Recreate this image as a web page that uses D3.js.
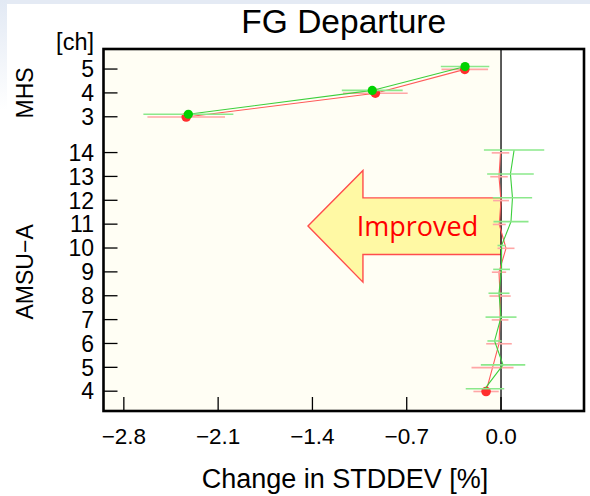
<!DOCTYPE html>
<html>
<head>
<meta charset="utf-8">
<script src="https://cdn.jsdelivr.net/npm/d3@7"></script>
<style>
  body { margin: 0; background: #fff; }
  svg { display: block; }
  text { font-family: "Liberation Sans", Arial, sans-serif; fill: #000; }
</style>
</head>
<body>
<script>
// channels, top to bottom
var mhsChannels = [5, 4, 3];
var amsuChannels = [14, 13, 12, 11, 10, 9, 8, 7, 6, 5, 4];

// experiment (green) and control (red): change in STDDEV [%], with error half-widths
var mhsGreen = [-0.267, -0.956, -2.321];
var mhsGreenErr = [0.180, 0.226, 0.334];
var mhsGreenSig = [true, true, true];
var mhsRed = [-0.269, -0.933, -2.337];
var mhsRedErr = [0.173, 0.240, 0.288];
var mhsRedSig = [true, true, true];

var amsuGreen = [0.097, 0.070, 0.085, 0.074, 0.004, 0.004, -0.015, 0.000, -0.048, 0.015, -0.119];
var amsuGreenErr = [0.224, 0.173, 0.146, 0.130, 0.030, 0.062, 0.078, 0.115, 0.053, 0.165, 0.143];
var amsuGreenSig = [false, false, false, false, false, false, false, false, false, false, false];
var amsuRed = [-0.004, -0.015, 0.000, -0.013, 0.037, -0.015, -0.007, -0.007, -0.015, -0.063, -0.111];
var amsuRedErr = [0.065, 0.065, 0.059, 0.048, 0.063, 0.053, 0.079, 0.062, 0.095, 0.156, 0.094];
var amsuRedSig = [false, false, false, false, false, false, false, false, false, false, true];

var xTicks = [-2.8, -2.1, -1.4, -0.7, 0.0];

function init() {
    var w = 590;
    var h = 496;
    var left = 103.5, right = 584, top = 49, bottom = 411;

    var svg = d3.select("body")
        .append("svg")
        .attr("width", w)
        .attr("height", h);

    // slide background edges
    var defs = svg.append("defs");
    var grad = defs.append("linearGradient").attr("id", "edge")
        .attr("x1", 0).attr("y1", 0).attr("x2", 0).attr("y2", 1);
    grad.append("stop").attr("offset", "0%").attr("stop-color", "#e2e9f4");
    grad.append("stop").attr("offset", "100%").attr("stop-color", "#ffffff");
    svg.append("rect").attr("x", 0).attr("y", 0).attr("width", w).attr("height", 4).attr("fill", "#e4eaf4");
    svg.append("rect").attr("x", 0).attr("y", 0).attr("width", 7).attr("height", 110).attr("fill", "url(#edge)");

    var x = d3.scaleLinear()
        .domain([-2.951, 0.616])
        .range([left, right]);

    // row index: MHS rows 0..2, AMSU rows 3.5..13.5
    var y = d3.scaleLinear()
        .domain([-0.84, 14.33])
        .range([top, bottom]);

    function rows(channels, green, greenErr, greenSig, red, redErr, redSig, offset) {
        return channels.map(function (c, i) {
            return {
                ch: c, idx: i + offset,
                g: green[i], ge: greenErr[i], gs: greenSig[i],
                r: red[i], re: redErr[i], rs: redSig[i]
            };
        });
    }
    var mhs = rows(mhsChannels, mhsGreen, mhsGreenErr, mhsGreenSig, mhsRed, mhsRedErr, mhsRedSig, 0);
    var amsu = rows(amsuChannels, amsuGreen, amsuGreenErr, amsuGreenSig, amsuRed, amsuRedErr, amsuRedSig, 3.5);
    var all = mhs.concat(amsu);

    // panel background: cream on the "improved" side
    svg.append("rect")
        .attr("x", left).attr("y", top)
        .attr("width", x(0) - left).attr("height", bottom - top)
        .attr("fill", "#fffef4");

    // Improved arrow
    var shaftTop = y(5.4), shaftBot = y(7.77);
    var headTop = y(4.25), headBot = y(8.93), mid = y(6.58);
    var tipX = x(-1.433), neckX = x(-1.025);
    svg.append("path")
        .attr("d", "M" + x(0) + "," + shaftTop + "L" + neckX + "," + shaftTop +
            "L" + neckX + "," + headTop + "L" + tipX + "," + mid +
            "L" + neckX + "," + headBot + "L" + neckX + "," + shaftBot +
            "L" + x(0) + "," + shaftBot + "Z")
        .attr("fill", "#fff9a4")
        .attr("stroke", "#ff4d4d")
        .attr("stroke-width", 1.4);
    svg.append("text")
        .attr("x", x(-0.62)).attr("y", mid + 10)
        .attr("text-anchor", "middle")
        .style("font-family", "'Open Sans', 'Noto Sans', sans-serif")
        .style("font-size", "27px")
        .style("fill", "#ff0000")
        .text("Improved");

    // zero line
    svg.append("line")
        .attr("x1", x(0)).attr("x2", x(0))
        .attr("y1", top).attr("y2", bottom)
        .attr("stroke", "#333").attr("stroke-width", 1.6);

    var gOff = -2.5, rOff = 0.3;

    function drawSeries(key, errKey, sigKey, off, lineCol, barCol, dotCol, r) {
        [mhs, amsu].forEach(function (grp) {
            svg.append("path")
                .datum(grp)
                .attr("fill", "none")
                .attr("stroke", lineCol)
                .attr("stroke-width", 1.1)
                .attr("d", d3.line()
                    .x(function (d) { return x(d[key]); })
                    .y(function (d) { return y(d.idx) + off; }));
        });
        svg.selectAll("line.err-" + key)
            .data(all)
            .enter()
            .append("line")
            .attr("class", "err-" + key)
            .attr("x1", function (d) { return x(d[key] - d[errKey]); })
            .attr("x2", function (d) { return x(d[key] + d[errKey]); })
            .attr("y1", function (d) { return y(d.idx) + off; })
            .attr("y2", function (d) { return y(d.idx) + off; })
            .attr("stroke", barCol)
            .attr("stroke-width", 1.6);
        svg.selectAll("circle.dot-" + key)
            .data(all.filter(function (d) { return d[sigKey]; }))
            .enter()
            .append("circle")
            .attr("class", "dot-" + key)
            .attr("cx", function (d) { return x(d[key]); })
            .attr("cy", function (d) { return y(d.idx) + off; })
            .attr("r", r)
            .attr("fill", dotCol);
    }
    drawSeries("r", "re", "rs", rOff, "#ff5a5a", "#ffa6a6", "#ff2e2e", 4.8);
    drawSeries("g", "ge", "gs", gOff, "#3ccf3c", "#8be88b", "#00d200", 4.6);

    // frame
    svg.append("rect")
        .attr("x", left).attr("y", top)
        .attr("width", right - left).attr("height", bottom - top)
        .attr("fill", "none")
        .attr("stroke", "#000")
        .attr("stroke-width", 2.6);

    // x axis: inward ticks
    svg.selectAll("line.xtick")
        .data(xTicks)
        .enter()
        .append("line")
        .attr("class", "xtick")
        .attr("x1", function (d) { return x(d); })
        .attr("x2", function (d) { return x(d); })
        .attr("y1", bottom).attr("y2", bottom - 14)
        .attr("stroke", "#000").attr("stroke-width", 1.3);
    svg.selectAll("text.xlab")
        .data(xTicks)
        .enter()
        .append("text")
        .attr("class", "xlab")
        .attr("x", function (d) { return x(d); })
        .attr("y", 444)
        .attr("text-anchor", "middle")
        .style("font-size", "22.5px")
        .text(d3.format(".1f"));

    // y axis: inward ticks
    svg.selectAll("line.ytick")
        .data(all)
        .enter()
        .append("line")
        .attr("class", "ytick")
        .attr("x1", left).attr("x2", left + 14)
        .attr("y1", function (d) { return y(d.idx); })
        .attr("y2", function (d) { return y(d.idx); })
        .attr("stroke", "#000").attr("stroke-width", 1.3);
    svg.selectAll("text.ylab")
        .data(all)
        .enter()
        .append("text")
        .attr("class", "ylab")
        .attr("x", 94)
        .attr("y", function (d) { return y(d.idx); })
        .attr("dy", "0.36em")
        .attr("text-anchor", "end")
        .style("font-size", "23px")
        .text(function (d) { return d.ch; });

    svg.append("text")
        .attr("x", 94).attr("y", 50)
        .attr("text-anchor", "end")
        .style("font-size", "23.5px")
        .text("[ch]");

    svg.append("text")
        .attr("transform", "translate(33," + y(1) + ") rotate(-90)")
        .attr("text-anchor", "middle")
        .style("font-size", "23px")
        .text("MHS");
    svg.append("text")
        .attr("transform", "translate(33," + y(8.5) + ") rotate(-90)")
        .attr("text-anchor", "middle")
        .style("font-size", "23px")
        .text("AMSU\u2212A");

    svg.append("text")
        .attr("x", (left + right) / 2).attr("y", 33)
        .attr("text-anchor", "middle")
        .style("font-size", "33.5px")
        .text("FG Departure");

    svg.append("text")
        .attr("x", 345).attr("y", 488)
        .attr("text-anchor", "middle")
        .style("font-size", "27px")
        .text("Change in STDDEV [%]");
}

window.onload = init;
</script>
</body>
</html>
